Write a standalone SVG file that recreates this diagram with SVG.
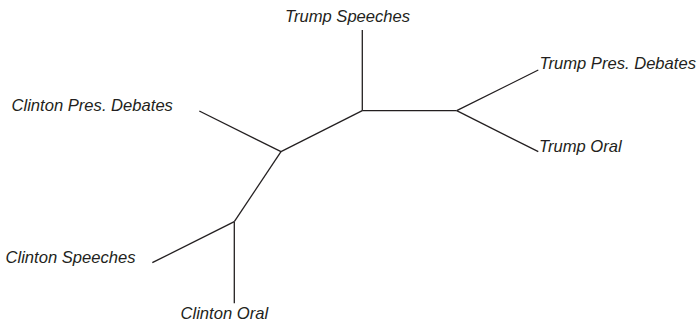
<svg xmlns="http://www.w3.org/2000/svg" width="698" height="323" viewBox="0 0 698 323">
<style>
.e{stroke:#231f20;stroke-width:1.3;fill:none;stroke-linecap:butt}
.t{font-family:"Liberation Sans",Arial,sans-serif;font-style:italic;font-size:16.6px;fill:#231f20}
</style>
<rect width="698" height="323" fill="#fff"/>
<g id="edges">
<line class="e" x1="281" y1="151.7" x2="199.3" y2="111"/>
<line class="e" x1="281" y1="151.7" x2="362.3" y2="110.7"/>
<line class="e" x1="362.3" y1="110.7" x2="362.3" y2="30"/>
<line class="e" x1="362.3" y1="110.7" x2="456.7" y2="110.7"/>
<line class="e" x1="456.7" y1="110.7" x2="538.3" y2="70"/>
<line class="e" x1="456.7" y1="110.7" x2="538.3" y2="151.7"/>
<line class="e" x1="281" y1="151.7" x2="234.3" y2="221.7"/>
<line class="e" x1="234.3" y1="221.7" x2="152.3" y2="262.7"/>
<line class="e" x1="234.3" y1="221.7" x2="234.3" y2="303.3"/>
</g>
<g id="trump-speeches"><text class="t" x="285" y="22">Trump Speeches</text></g>
<g id="clinton-pres-debates"><text class="t" x="11.5" y="110.7">Clinton Pres. Debates</text></g>
<g id="trump-pres-debates"><text class="t" x="539.5" y="69">Trump Pres. Debates</text></g>
<g id="trump-oral"><text class="t" x="539" y="152">Trump Oral</text></g>
<g id="clinton-speeches"><text class="t" x="5.5" y="263">Clinton Speeches</text></g>
<g id="clinton-oral"><text class="t" x="180.5" y="318.5">Clinton Oral</text></g>
</svg>
